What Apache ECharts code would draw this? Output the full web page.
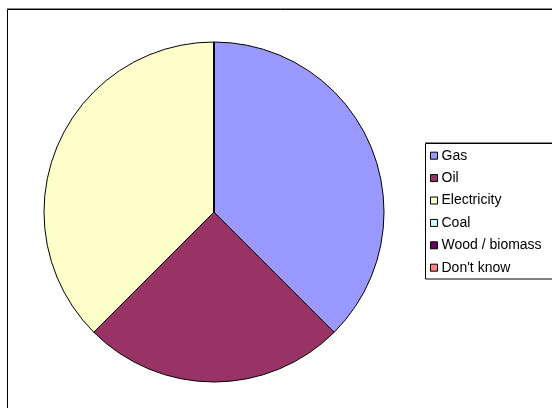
<!DOCTYPE html>
<html>
<head>
<meta charset="utf-8">
<script src="https://cdn.jsdelivr.net/npm/echarts@6/dist/echarts.min.js"></script>
<style>
  html, body { margin: 0; padding: 0; background: #fff; }
  #chart { width: 552px; height: 408px; }
</style>
</head>
<body>
<div id="chart"></div>
<script>
// Main heating fuel
const categories = ['Gas', 'Oil', 'Electricity', 'Coal', 'Wood / biomass', "Don't know"];
const values = [3, 2, 3, 0, 0, 0];
const colors = ['#9999FF', '#993366', '#FFFFCC', '#CCFFFF', '#660066', '#FF8080'];

const chart = echarts.init(document.getElementById('chart'), null, { renderer: 'canvas' });

const pieData = categories.map((name, i) => ({
  name: name,
  value: values[i],
  itemStyle: { color: colors[i] }
}));

chart.setOption({
  animation: false,
  backgroundColor: '#ffffff',
  color: colors,
  graphic: [
    // outer chart frame
    { type: 'line', silent: true, z: 0,
      shape: { x1: 7, y1: 8.5, x2: 560, y2: 8.5 },
      style: { stroke: '#888888', lineWidth: 1 } },
    { type: 'rect', silent: true, z: 0,
      shape: { x: 7.5, y: 9.5, width: 600, height: 500 },
      style: { fill: 'none', stroke: '#000000', lineWidth: 1 } },
    // legend box
    { type: 'line', silent: true, z: 0,
      shape: { x1: 425, y1: 142.5, x2: 560, y2: 142.5 },
      style: { stroke: '#888888', lineWidth: 1 } },
    { type: 'rect', silent: true, z: 0,
      shape: { x: 425.5, y: 143.5, width: 200, height: 135.5 },
      style: { fill: '#ffffff', stroke: '#000000', lineWidth: 1 } }
  ],
  legend: {
    orient: 'vertical',
    left: 430,
    top: 148.7,
    padding: 0,
    itemGap: 8.4,
    itemWidth: 7,
    itemHeight: 7,
    icon: 'rect',
    selectedMode: false,
    data: categories,
    itemStyle: { borderColor: '#000000', borderWidth: 1 },
    textStyle: {
      fontFamily: 'Liberation Sans, Arial, sans-serif',
      fontSize: 14,
      lineHeight: 14,
      color: '#000000',
      padding: [0, 0, 0, -1]
    }
  },
  series: [{
    type: 'pie',
    center: [214, 212],
    radius: [0, 170],
    startAngle: 90,
    clockwise: true,
    avoidLabelOverlap: false,
    label: { show: false },
    labelLine: { show: false },
    emphasis: { disabled: true },
    itemStyle: { borderColor: '#000000', borderWidth: 1 },
    data: pieData
  }]
});
</script>
</body>
</html>
